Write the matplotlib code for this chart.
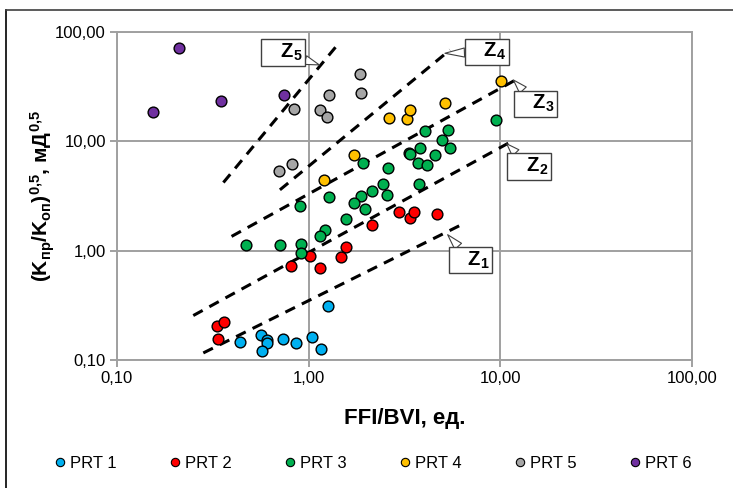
import matplotlib.pyplot as plt
import matplotlib.ticker as mticker
from matplotlib.lines import Line2D
import numpy as np

plt.rcParams['font.family'] = ['Liberation Sans', 'DejaVu Sans']
plt.rcParams['mathtext.fontset'] = 'custom'
plt.rcParams['mathtext.rm'] = 'Liberation Sans'
plt.rcParams['mathtext.bf'] = 'Liberation Sans:bold'
plt.rcParams['mathtext.it'] = 'Liberation Sans:italic'

## Data (FFI/BVI, (Kpr/Kop)^0.5) per rock type
prt1_x = [1.256, 1.044, 1.159, 0.855, 0.737, 0.562, 0.608, 0.604, 0.569, 0.440]
prt1_y = [0.31, 0.164, 0.127, 0.142, 0.156, 0.170, 0.152, 0.142, 0.121, 0.146]

prt2_x = [1.016, 0.809, 1.146, 1.47, 1.57, 2.15, 2.97, 3.38, 3.56, 4.69, 0.331, 0.363, 0.335]
prt2_y = [0.90, 0.72, 0.695, 0.869, 1.07, 1.70, 2.28, 2.0, 2.28, 2.16, 0.206, 0.221, 0.157]

prt3_x = [9.49, 4.03, 5.33, 4.94, 5.46, 3.81, 3.35, 3.38, 4.56, 3.70, 4.13, 2.60, 1.91, 2.43,
          3.78, 2.55, 2.13, 1.87, 1.73, 1.28, 0.904, 1.97, 1.57, 1.21, 1.15, 0.469, 0.708,
          0.908, 0.908]
prt3_y = [15.7, 12.5, 12.7, 10.2, 8.78, 8.6, 7.9, 7.7, 7.53, 6.4, 6.1, 5.7, 6.32, 4.09,
          4.09, 3.2, 3.48, 3.13, 2.73, 3.09, 2.58, 2.42, 1.96, 1.56, 1.37, 1.12, 1.12,
          1.16, 0.96]

prt4_x = [2.62, 3.25, 3.38, 5.16, 10.1, 1.73, 1.20]
prt4_y = [16.5, 16.0, 19.4, 22.6, 35.5, 7.48, 4.45]

prt5_x = [0.841, 1.28, 1.146, 1.245, 1.86, 1.875, 0.700, 0.815]
prt5_y = [19.8, 26.8, 19.5, 16.7, 41.3, 27.5, 5.38, 6.14]

prt6_x = [0.211, 0.154, 0.348, 0.746]
prt6_y = [71.9, 18.6, 23.4, 26.8]

## Zone boundary lines Z1..Z5 (end points)
zone_names = ['1', '2', '3', '4', '5']
zone_x = [[0.282, 6.11], [0.25, 11.7], [0.396, 12.2], [0.708, 5.46], [0.359, 1.426]]
zone_y = [[0.116, 1.69], [0.255, 10.2], [1.35, 37.0], [3.6, 68.5], [4.2, 77.7]]

## Callout positions: label centre and pointer tip
label_x = [6.98, 14.1, 15.3, 8.51, 0.734]
label_y = [0.823, 5.89, 22.1, 66.1, 65.0]
tip_x = [5.31, 10.8, 11.7, 5.14, 1.136]
tip_y = [1.40, 9.49, 36.4, 63.9, 50.0]

series = [
    ('PRT 1', prt1_x, prt1_y, '#00B0F0'),
    ('PRT 2', prt2_x, prt2_y, '#FF0000'),
    ('PRT 3', prt3_x, prt3_y, '#00B050'),
    ('PRT 4', prt4_x, prt4_y, '#FFC000'),
    ('PRT 5', prt5_x, prt5_y, '#A6A6A6'),
    ('PRT 6', prt6_x, prt6_y, '#7030A0'),
]

fig = plt.figure(figsize=(7.33, 4.88), dpi=100)
ax = fig.add_axes([117 / 733, 1 - 360 / 488, (692 - 117) / 733, (360 - 32) / 488])

ax.set_xscale('log')
ax.set_yscale('log')
ax.set_xlim(0.1, 100)
ax.set_ylim(0.1, 100)

grid_col = '#A0A0A0'
ax.grid(True, which='major', color=grid_col, lw=1.4)
ax.set_axisbelow(True)
for s in ax.spines.values():
    s.set_color(grid_col)
    s.set_linewidth(1.4)

ax.xaxis.set_major_locator(mticker.FixedLocator([0.1, 1, 10, 100]))
ax.yaxis.set_major_locator(mticker.FixedLocator([0.1, 1, 10, 100]))
ax.xaxis.set_minor_locator(mticker.NullLocator())
ax.yaxis.set_minor_locator(mticker.NullLocator())
fmt = mticker.FuncFormatter(lambda v, p: ('%.2f' % v).replace('.', ','))
ax.xaxis.set_major_formatter(fmt)
ax.yaxis.set_major_formatter(fmt)
ax.tick_params(axis='both', which='major', length=5, width=1.4, color=grid_col,
               labelsize=12, labelcolor='black', pad=3)

for x, y in zip(zone_x, zone_y):
    ax.plot(x, y, color='black', lw=2.2, ls=(0, (3.5, 2.5)), zorder=2)

for name, x, y, c in series:
    ax.scatter(x, y, s=60, color=c, edgecolors='black', linewidths=1.0, zorder=3, label=name)

for n, lx, ly, tx, ty in zip(zone_names, label_x, label_y, tip_x, tip_y):
    ax.annotate(r'$\ \ \ \mathbf{Z}_{\mathbf{' + n + r'}}\ \ \ $', xy=(tx, ty), xytext=(lx, ly),
                ha='center', va='center', fontsize=14.5, zorder=5,
                bbox=dict(boxstyle='square,pad=0.12', fc='white', ec='#404040', lw=1),
                arrowprops=dict(arrowstyle='wedge,tail_width=0.45,shrink_factor=0.5',
                                fc='white', ec='#404040', lw=0.8, shrinkA=0, shrinkB=0))

ax.set_xlabel('FFI/BVI, ед.', fontsize=16, fontweight='bold', labelpad=16)
ax.set_ylabel(r'$\mathbf{(K_{пр}/K_{оп})^{0{,}5}{,}\ мД^{0{,}5}}$', fontsize=15)
ax.yaxis.set_label_coords(-0.105, 0.5)

handles = [Line2D([], [], ls='none', marker='o', ms=6, mfc=c, mec='black', mew=0.8)
           for _, _, _, c in series]
fig.legend(handles, [s[0] for s in series], loc='center', ncol=6, frameon=False,
           bbox_to_anchor=(372 / 733, 1 - 463 / 488), fontsize=12,
           handletextpad=0.1, columnspacing=3.0, handlelength=1.0)

## outer frame of the chart area
fig.add_artist(Line2D([6 / 733, 6 / 733], [0, 1 - 10 / 488], color='black', lw=1.2))
fig.add_artist(Line2D([6 / 733, 1], [1 - 10 / 488, 1 - 10 / 488], color='#404040', lw=1.2))

fig.savefig('out.png', dpi=100)
